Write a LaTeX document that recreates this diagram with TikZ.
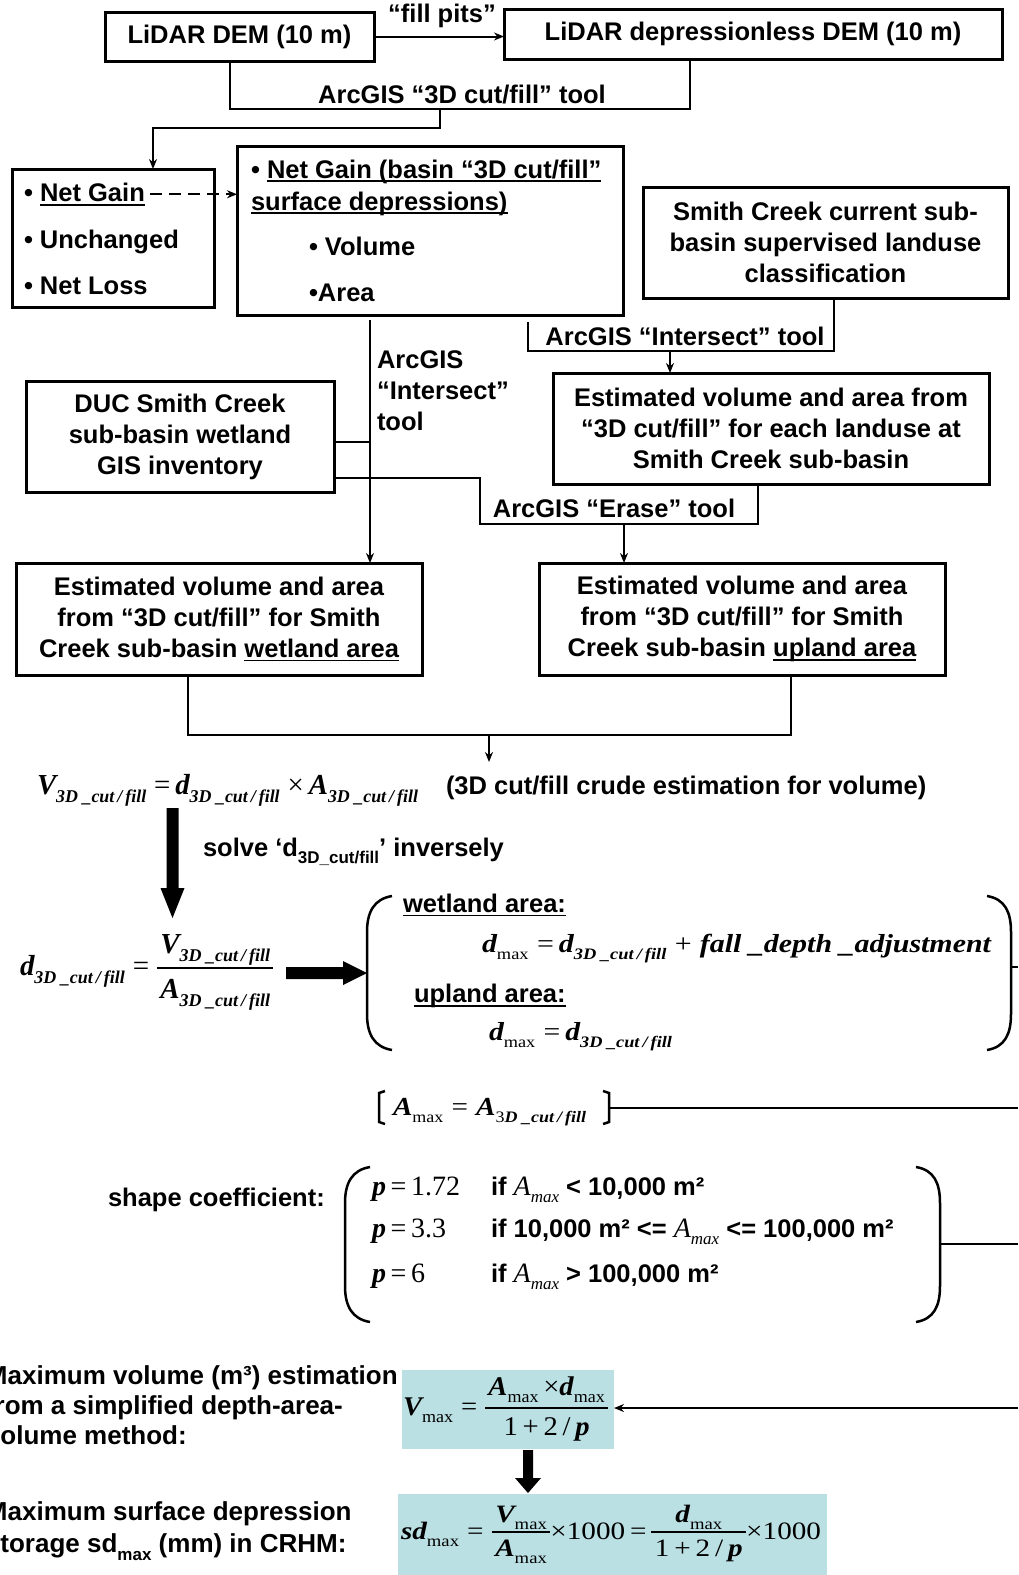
\documentclass[tikz,border=0pt]{standalone}
\usepackage{fontspec}
\usepackage{graphicx}
\setmainfont{Liberation Sans}
\newfontfamily\tms{Liberation Serif}
\usetikzlibrary{arrows.meta}
\definecolor{shade}{RGB}{187,224,227}
\newcommand\BI[1]{{\tms\bfseries\itshape #1}}
\newcommand\IT[1]{{\tms\mdseries\itshape #1}}
\newcommand\RM[1]{{\tms\mdseries\upshape #1}}
\newcommand\lsub[2]{\raisebox{-0.28em}{\fontsize{#1}{#1}\selectfont #2}}
\newcommand\cutfill{3D\ \_cut\,/\,fill}
\newsavebox\ulbox
\newcommand\ulx[1]{\sbox\ulbox{#1}\rlap{\rule[-4pt]{\wd\ulbox}{1.6pt}}\usebox\ulbox}
\newsavebox\frnum
\newsavebox\frden
\newlength\frw
\newcommand\fracx[4]{%
  \sbox\frnum{#3}\sbox\frden{#4}%
  \setlength\frw{\wd\frnum}\ifdim\wd\frden>\frw\setlength\frw{\wd\frden}\fi
  \addtolength\frw{6pt}%
  \rlap{\hbox to\frw{\hss\raisebox{\dimexpr 7pt+#1\relax}{\usebox\frnum}\hss}}%
  \rlap{\hbox to\frw{\hss\raisebox{\dimexpr 7pt-#2\relax}{\usebox\frden}\hss}}%
  \rule[6.2pt]{\frw}{1.6pt}}
\begin{document}
\begin{tikzpicture}[x=1pt,y=-1pt,
  every node/.style={inner sep=0pt,outer sep=0pt,font=\fontsize{25.5}{31}\selectfont\bfseries},
  box/.style={draw,line width=3pt,align=center},
  conn/.style={line width=2pt},
  arr/.style={-{Stealth[length=10pt,width=8pt]}},
  brk/.style={line width=2.5pt},
  shadebox/.style={fill=shade}]
\useasboundingbox (0,0) rectangle (1018,1575);

% ---------- boxes ----------
\node[box, minimum width=269pt, minimum height=49pt] (A) at (239.5,36.5) {LiDAR DEM (10 m)};
\node[box, minimum width=498pt, minimum height=50pt] (B) at (753,34) {LiDAR depressionless DEM (10 m)};
\node[box, minimum width=202pt, minimum height=138pt] (C) at (113,238) {};
\node[box, minimum width=386pt, minimum height=169pt] (D) at (430,230.5) {};
\node[box, minimum width=365pt, minimum height=111pt] (E) at (825.5,242.5) {Smith Creek current sub-\\basin supervised landuse\\classification};
\node[box, minimum width=436pt, minimum height=111pt] (F) at (771,428.5) {Estimated volume and area from\\“3D cut/fill” for each landuse at\\Smith Creek sub-basin};
\node[box, minimum width=308pt, minimum height=111pt] (G) at (180,436.5) {DUC Smith Creek\\sub-basin wetland\\GIS inventory};
\node[box, minimum width=406pt, minimum height=112pt] (H) at (219,619) {Estimated volume and area\\from “3D cut/fill” for Smith\\Creek sub-basin \ulx{wetland area}};
\node[box, minimum width=406pt, minimum height=112pt] (I) at (742,619) {Estimated volume and area\\from “3D cut/fill” for Smith\\Creek sub-basin \ulx{upland area}};

% box C text
\node[anchor=base west] (c1) at (24,201.5) {• \ulx{Net Gain}};
\node[anchor=base west] (c2) at (24,248) {• Unchanged};
\node[anchor=base west] (c3) at (24,294) {• Net Loss};
% box D text
\node[anchor=base west] (d1) at (251,178) {• \ulx{Net Gain (basin “3D cut/fill”}};
\node[anchor=base west] (d2) at (251,210) {\ulx{surface depressions)}};
\node[anchor=base west] (d3) at (309,255) {• Volume};
\node[anchor=base west] (d4) at (309,301) {•Area};

% ---------- connectors ----------
\draw[conn,arr] (A.east) -- (A.east -| B.west);
\node (fp) at (442,16) {“fill pits”};

\coordinate (k1) at (230,108.5);
\coordinate (k2) at (690,108.5);
\draw[conn] (k1 |- A.south) -- (k1) -- (k2) -- (k2 |- B.south);
\node (L1) at (462,95) {ArcGIS “3D cut/fill” tool};
\coordinate (k3) at (440,108.5);
\coordinate (k4) at (440,128);
\coordinate (k5) at (153,128);
\draw[conn,arr] (k3) -- (k4) -- (k5) -- (k5 |- C.north);

\draw[conn,arr,dash pattern=on 12pt off 7pt] ([xshift=5pt]c1.east) -- (c1.east -| D.west);

\coordinate (k7) at (528,322);
\coordinate (k8) at (528,351);
\coordinate (k9) at (834,351);
\draw[conn] (k7) -- (k8) -- (k9) -- (k9 |- E.south);
\coordinate (k10) at (670,351);
\draw[conn,arr] (k10) -- (k10 |- F.north);
\node (L2) at (685,336) {ArcGIS “Intersect” tool};

\coordinate (k11) at (370,320);
\draw[conn,arr] (k11) -- (k11 |- H.north);
\node[anchor=west,align=left] (L3) at (377,391) {ArcGIS\\“Intersect”\\tool};

\coordinate (k12) at (370,442);
\draw[conn] (k12 -| G.east) -- (k12);
\coordinate (k13) at (480,478);
\coordinate (k14) at (480,524);
\coordinate (k15) at (758,524);
\draw[conn] (k13 -| G.east) -- (k13) -- (k14) -- (k15) -- (k15 |- F.south);
\coordinate (k16) at (624,524);
\draw[conn,arr] (k16) -- (k16 |- I.north);
\node (L4) at (614,508) {ArcGIS “Erase” tool};

\coordinate (k17) at (188,735);
\coordinate (k18) at (791,735);
\draw[conn] (k17 |- H.south) -- (k17) -- (k18) -- (k18 |- I.south);
\coordinate (k19) at (489,735);
\coordinate (k20) at (489,762);
\draw[conn,arr] (k19) -- (k20);

% ---------- formulas ----------
\node[anchor=base west] (F1) at (37,794) {\fontsize{29}{29}\selectfont\resizebox{381pt}{\height}{\BI{V}\lsub{18}{\BI{\cutfill}}\ \RM{=}\,\BI{d}\lsub{18}{\BI{\cutfill}}\ \RM{×}\,\BI{A}\lsub{18}{\BI{\cutfill}}}};
\node[anchor=west] (F1t) at (446,788) {(3D cut/fill crude estimation for volume)};

\fill (166.5,808) -- (178.5,808) -- (178.5,888) -- (184.5,888) -- (172.5,918) -- (160.5,888) -- (166.5,888) -- cycle;
\node[anchor=west] (solve) at (203,852) {solve ‘d\lsub{17}{3D\_cut/fill}’ inversely};

\node[anchor=base west] (F2) at (20,975) {\fontsize{29}{29}\selectfont\resizebox{253pt}{\height}{\BI{d}\lsub{18}{\BI{\cutfill}}\ \RM{=}\ \fracx{15pt}{30pt}{\BI{V}\lsub{18}{\BI{\cutfill}}}{\BI{A}\lsub{18}{\BI{\cutfill}}}}};

\fill (286,967) -- (343,967) -- (343,961) -- (367,973) -- (343,985) -- (343,979) -- (286,979) -- cycle;

% big bracket 1
\draw[brk] (392,896) .. controls (374,899) and (367,912) .. (367,932) -- (367,1014) .. controls (367,1034) and (374,1047) .. (392,1050);
\draw[brk] (987,896) .. controls (1005,899) and (1011,912) .. (1011,932) -- (1011,1014) .. controls (1011,1034) and (1005,1047) .. (987,1050);
\coordinate (e1) at (1011,967);
\coordinate (e1r) at (1018,967);
\draw[brk] (e1) -- (e1r);
\node[anchor=west] (w1) at (403,905) {\ulx{wetland area:}};
\node[anchor=base west] (w2) at (482,952) {\fontsize{26}{26}\selectfont\resizebox{509pt}{\height}{\BI{d}\lsub{16}{\RM{max}}\ \RM{=}\,\BI{d}\lsub{16}{\BI{\cutfill}}\ \RM{+}\ \BI{fall \_depth \_adjustment}}};
\node[anchor=west] (u1) at (414,996) {\ulx{upland area:}};
\node[anchor=base west] (u2) at (489,1040) {\fontsize{26}{26}\selectfont\resizebox{183pt}{\height}{\BI{d}\lsub{16}{\RM{max}}\ \RM{=}\,\BI{d}\lsub{16}{\BI{\cutfill}}}};

% A max
\draw[brk] (385,1091) -- (379,1093) -- (379,1122) -- (385,1124);
\node[anchor=base west] (am) at (393,1115) {\fontsize{26}{26}\selectfont\resizebox{193pt}{\height}{\BI{A}\lsub{16}{\RM{max}}\ \RM{=}\ \BI{A}\lsub{16}{\RM{3}\BI{D\ \_cut\,/\,fill}}}};
\draw[brk] (603,1091) -- (609,1093) -- (609,1122) -- (603,1124);
\coordinate (e2) at (609,1108);
\coordinate (e2r) at (1018,1108);
\draw[brk] (e2) -- (e2r);

% shape coefficient
\node[anchor=west] (sc) at (108,1200) {shape coefficient:};
\draw[brk] (370,1167) .. controls (352,1170) and (345,1183) .. (345,1203) -- (345,1286) .. controls (345,1306) and (352,1319) .. (370,1322);
\draw[brk] (916,1167) .. controls (934,1170) and (940,1183) .. (940,1203) -- (940,1286) .. controls (940,1306) and (934,1319) .. (916,1322);
\coordinate (e3) at (940,1244);
\coordinate (e3r) at (1018,1244);
\draw[brk] (e3) -- (e3r);
\node[anchor=base west] (p1) at (372,1195) {\fontsize{28}{28}\selectfont\BI{p}\,\RM{=}\,\RM{1.72}};
\node[anchor=base west] (q1) at (491,1195) {if \IT{\fontsize{28}{28}\selectfont A}\lsub{17}{\IT{max}} < 10,000 m²};
\node[anchor=base west] (p2) at (372,1237) {\fontsize{28}{28}\selectfont\BI{p}\,\RM{=}\,\RM{3.3}};
\node[anchor=base west] (q2) at (491,1237) {if 10,000 m² <= \IT{\fontsize{28}{28}\selectfont A}\lsub{17}{\IT{max}} <= 100,000 m²};
\node[anchor=base west] (p3) at (372,1282) {\fontsize{28}{28}\selectfont\BI{p}\,\RM{=}\,\RM{6}};
\node[anchor=base west] (q3) at (491,1282) {if \IT{\fontsize{28}{28}\selectfont A}\lsub{17}{\IT{max}} > 100,000 m²};

% V max
\node[anchor=north west,align=left,font=\fontsize{26}{30}\selectfont\bfseries] (t1) at (-14,1366) {Maximum volume (m³) estimation\\from a simplified depth-area-\\volume method:};
\node[shadebox, minimum width=212pt, minimum height=79pt] (VB) at (508,1409.5) {};
\node[anchor=base west] (VF) at (403,1415) {\fontsize{27}{27}\selectfont\resizebox{205pt}{\height}{\BI{V}\lsub{17}{\RM{max}}\ \RM{=}\ \fracx{13pt}{27pt}{\BI{A}\lsub{17}{\RM{max}}\,\RM{×}\BI{d}\lsub{17}{\RM{max}}}{\RM{1\,+\,2\,/\,}\BI{p}}}};
\coordinate (e4) at (1018,1408);
\draw[brk,-{Stealth[length=10pt,width=8pt]}] (e4) -- (e4 -| VB.east);

\fill (523,1450) -- (533,1450) -- (533,1478) -- (541,1478) -- (528,1493) -- (515,1478) -- (523,1478) -- cycle;

% sd max
\node[anchor=north west,align=left,font=\fontsize{26}{32}\selectfont\bfseries] (t2) at (-14,1502) {Maximum surface depression\\storage sd\lsub{17}{max} (mm) in CRHM:};
\node[shadebox, minimum width=429pt, minimum height=81pt] (SB) at (612.5,1534.5) {};
\node[anchor=base west] (SF) at (401,1539) {\fontsize{25}{25}\selectfont\resizebox{420pt}{\height}{\BI{sd}\lsub{16}{\RM{max}}\ \RM{=}\ \fracx{10pt}{24pt}{\BI{V}\lsub{16}{\RM{max}}}{\BI{A}\lsub{16}{\RM{max}}}\RM{×1000\,=\,}\fracx{10pt}{24pt}{\BI{d}\lsub{16}{\RM{max}}}{\RM{1\,+\,2\,/\,}\BI{p}}\RM{×1000}}};
\end{tikzpicture}
\end{document}
